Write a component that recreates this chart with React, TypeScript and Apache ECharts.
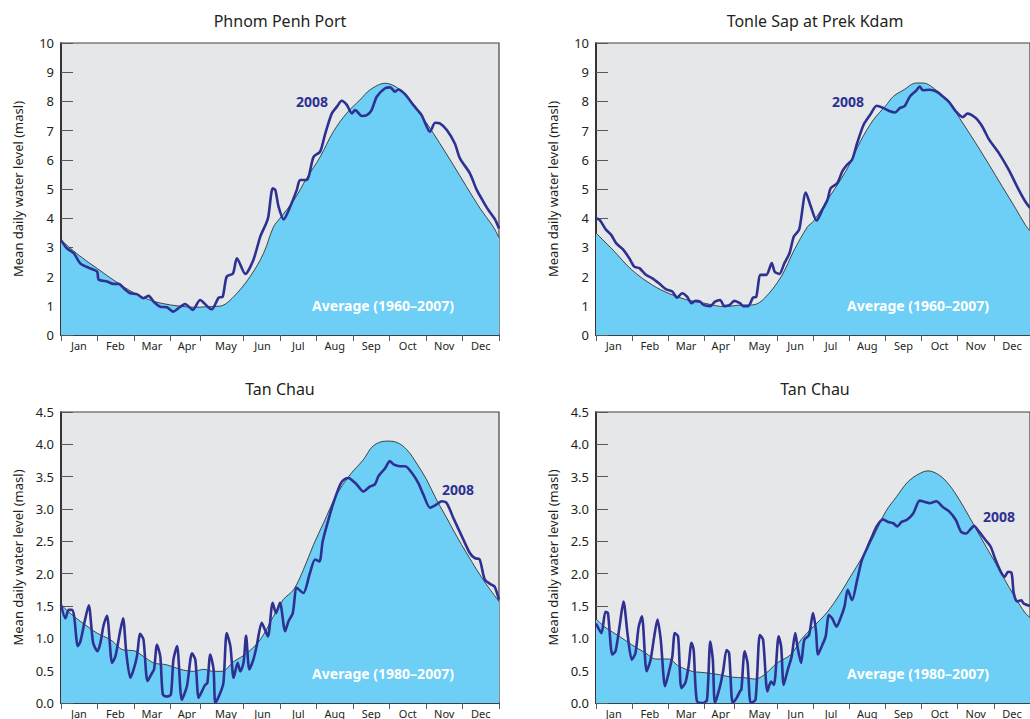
import React, { useEffect, useRef } from "react";
import * as echarts from "echarts";

// ---------- data (x = position in months from 1 Jan, 0..12) ----------
const months = ["Jan", "Feb", "Mar", "Apr", "May", "Jun", "Jul", "Aug", "Sep", "Oct", "Nov", "Dec"];
const monthTicks = [0, 1, 2, 3, 3.81, 5, 6, 7, 8, 9, 10, 11, 12];
const monthLabelPos = [0.49, 1.49, 2.49, 3.45, 4.52, 5.52, 6.5, 7.5, 8.5, 9.5, 10.5, 11.5];

const topTicks = [0, 1, 2, 3, 4, 5, 6, 7, 8, 9, 10];
const bottomTicks = [0, 0.5, 1, 1.5, 2, 2.5, 3, 3.5, 4, 4.5];

const titles = ["Phnom Penh Port", "Tonle Sap at Prek Kdam", "Tan Chau", "Tan Chau"];
const yName = "Mean daily water level (masl)";
const yearLabel = "2008";
const avgLabels = ["Average (1960–2007)", "Average (1960–2007)", "Average (1980–2007)", "Average (1980–2007)"];

// Phnom Penh Port
const ppAvgX = [0, 0.5, 0.99, 1.5, 1.99, 2.5, 3.0, 3.5, 3.72, 4.0, 4.36, 4.73, 5.18, 5.55, 5.82, 6.0, 6.37, 6.73, 7.1, 7.46, 7.83, 8.19, 8.47, 8.88, 9.29, 9.65, 10.02, 10.38, 10.75, 11.11, 11.48, 11.84, 12];
const ppAvgY = [3.25, 2.72, 2.28, 1.83, 1.45, 1.17, 1.03, 0.96, 0.95, 0.97, 0.99, 1.31, 2.0, 2.8, 3.7, 4.0, 4.6, 5.37, 6.1, 6.96, 7.6, 8.05, 8.4, 8.62, 8.4, 7.88, 7.25, 6.56, 5.82, 5.08, 4.34, 3.71, 3.33];
const pp08X = [0, 0.16, 0.35, 0.53, 0.8, 0.99, 1.03, 1.26, 1.44, 1.58, 1.72, 1.9, 2.08, 2.26, 2.4, 2.54, 2.72, 2.9, 3.07, 3.27, 3.4, 3.61, 3.81, 4.0, 4.13, 4.32, 4.43, 4.54, 4.71, 4.82, 5.05, 5.27, 5.46, 5.62, 5.68, 5.8, 5.87, 5.96, 6.1, 6.28, 6.46, 6.55, 6.73, 6.92, 7.1, 7.24, 7.42, 7.56, 7.69, 7.83, 7.97, 8.06, 8.24, 8.38, 8.51, 8.65, 8.88, 9.02, 9.15, 9.24, 9.43, 9.65, 9.88, 10.11, 10.25, 10.38, 10.57, 10.79, 10.93, 11.2, 11.39, 11.57, 11.71, 11.89, 12];
const pp08Y = [3.25, 2.97, 2.8, 2.45, 2.28, 2.17, 1.9, 1.83, 1.75, 1.75, 1.6, 1.43, 1.4, 1.26, 1.34, 1.14, 0.97, 0.95, 0.8, 0.97, 1.06, 0.86, 1.2, 0.99, 0.88, 1.28, 1.31, 2.0, 2.1, 2.63, 2.09, 2.57, 3.37, 3.82, 4.05, 5.02, 4.97, 4.4, 3.96, 4.4, 4.97, 5.31, 5.31, 6.1, 6.28, 6.9, 7.59, 7.82, 8.02, 7.88, 7.59, 7.7, 7.5, 7.53, 7.7, 8.16, 8.45, 8.48, 8.33, 8.41, 8.24, 7.88, 7.53, 6.96, 7.27, 7.25, 7.02, 6.56, 6.05, 5.54, 4.97, 4.57, 4.28, 3.96, 3.65];

// Tonle Sap at Prek Kdam
const tsAvgX = [0, 0.47, 0.99, 1.56, 2.0, 2.47, 2.99, 3.57, 3.93, 4.34, 4.66, 5.12, 5.48, 5.85, 6.01, 6.4, 6.76, 7.03, 7.31, 7.67, 8.01, 8.22, 8.49, 8.86, 9.04, 9.41, 9.77, 10.14, 10.5, 10.87, 11.23, 11.6, 11.87, 12];
const tsAvgY = [3.49, 2.91, 2.23, 1.71, 1.43, 1.22, 1.09, 0.97, 1.02, 1.03, 1.26, 2.0, 2.91, 3.71, 3.89, 4.63, 5.31, 5.89, 6.63, 7.37, 7.85, 8.17, 8.38, 8.63, 8.63, 8.38, 7.94, 7.26, 6.57, 5.83, 5.09, 4.34, 3.77, 3.57];
const ts08X = [0, 0.1, 0.28, 0.42, 0.56, 0.74, 0.92, 1.06, 1.2, 1.38, 1.56, 1.74, 1.93, 2.11, 2.24, 2.38, 2.52, 2.64, 2.75, 2.88, 2.97, 3.16, 3.29, 3.43, 3.55, 3.7, 3.82, 3.98, 4.07, 4.21, 4.34, 4.43, 4.55, 4.71, 4.86, 4.94, 5.07, 5.21, 5.35, 5.47, 5.62, 5.8, 5.94, 6.1, 6.26, 6.4, 6.49, 6.67, 6.81, 6.94, 7.08, 7.22, 7.4, 7.58, 7.76, 7.95, 8.13, 8.27, 8.4, 8.54, 8.68, 8.86, 8.95, 9.04, 9.22, 9.41, 9.59, 9.77, 9.95, 10.14, 10.27, 10.5, 10.68, 10.87, 11.14, 11.41, 11.69, 11.87, 12];
const ts08Y = [4.0, 3.94, 3.6, 3.43, 3.14, 2.94, 2.63, 2.34, 2.29, 2.06, 1.94, 1.77, 1.57, 1.49, 1.28, 1.43, 1.31, 1.09, 1.17, 1.14, 1.03, 0.99, 1.14, 1.2, 0.99, 1.03, 1.17, 1.09, 0.99, 0.99, 1.28, 1.31, 2.06, 2.06, 2.46, 2.17, 2.09, 2.46, 2.8, 3.37, 3.62, 4.88, 4.4, 3.92, 4.29, 4.63, 5.03, 5.2, 5.6, 5.83, 6.0, 6.57, 7.2, 7.54, 7.85, 7.77, 7.66, 7.62, 7.77, 7.85, 8.17, 8.38, 8.51, 8.38, 8.4, 8.34, 8.17, 7.97, 7.66, 7.46, 7.58, 7.43, 7.14, 6.69, 6.23, 5.66, 4.97, 4.57, 4.35];

// Tan Chau (left)
const tcAvgX = [0, 0.35, 0.71, 0.99, 1.35, 1.72, 1.99, 2.26, 2.54, 2.9, 3.27, 3.63, 3.91, 4.18, 4.41, 4.73, 5.09, 5.46, 5.82, 6.09, 6.37, 6.64, 6.92, 7.19, 7.55, 7.92, 8.28, 8.56, 8.92, 9.2, 9.47, 9.74, 10.02, 10.29, 10.57, 10.84, 11.11, 11.39, 11.66, 12];
const tcAvgY = [1.52, 1.34, 1.19, 1.08, 0.98, 0.82, 0.81, 0.72, 0.62, 0.59, 0.52, 0.49, 0.52, 0.49, 0.49, 0.64, 0.77, 0.98, 1.34, 1.6, 1.75, 2.06, 2.45, 2.78, 3.22, 3.53, 3.76, 3.98, 4.05, 4.03, 3.92, 3.71, 3.45, 3.14, 2.86, 2.58, 2.32, 2.06, 1.83, 1.57];
const tc08X = [0, 0.12, 0.21, 0.3, 0.36, 0.46, 0.53, 0.64, 0.76, 0.88, 1.0, 1.08, 1.17, 1.26, 1.4, 1.49, 1.61, 1.7, 1.79, 1.9, 1.99, 2.08, 2.17, 2.26, 2.37, 2.49, 2.55, 2.63, 2.72, 2.79, 2.9, 3.01, 3.08, 3.18, 3.31, 3.45, 3.59, 3.68, 3.77, 3.86, 3.95, 4.01, 4.09, 4.18, 4.23, 4.36, 4.45, 4.54, 4.64, 4.73, 4.84, 4.91, 5.0, 5.07, 5.16, 5.27, 5.36, 5.5, 5.59, 5.67, 5.8, 5.89, 6.0, 6.14, 6.23, 6.35, 6.46, 6.64, 6.82, 6.96, 7.08, 7.17, 7.33, 7.46, 7.65, 7.74, 7.87, 8.1, 8.28, 8.47, 8.6, 8.7, 8.88, 9.01, 9.11, 9.29, 9.43, 9.61, 9.79, 9.93, 10.11, 10.29, 10.43, 10.57, 10.75, 10.98, 11.2, 11.34, 11.47, 11.61, 11.79, 11.88, 12];
const tc08Y = [1.52, 1.31, 1.44, 1.44, 1.34, 0.88, 0.95, 1.24, 1.51, 0.93, 0.8, 0.93, 1.21, 1.35, 0.62, 0.72, 1.08, 1.31, 0.77, 0.39, 0.52, 0.72, 1.07, 0.98, 0.34, 0.46, 0.52, 0.9, 0.72, 0.13, 0.1, 0.13, 0.67, 0.88, 0.05, 0.26, 0.77, 0.67, 0.08, 0.18, 0.28, 0.31, 0.75, 0.52, 0.0, 0.15, 0.31, 1.08, 0.88, 0.39, 0.62, 0.49, 0.62, 1.04, 0.52, 0.67, 0.88, 1.24, 1.13, 1.03, 1.55, 1.39, 1.55, 1.11, 1.26, 1.39, 1.78, 1.7, 2.01, 2.22, 2.19, 2.5, 2.84, 3.09, 3.38, 3.45, 3.48, 3.38, 3.27, 3.35, 3.38, 3.51, 3.63, 3.74, 3.69, 3.66, 3.66, 3.56, 3.4, 3.22, 3.02, 3.07, 3.12, 3.09, 2.86, 2.58, 2.32, 2.24, 2.22, 1.91, 1.83, 1.8, 1.6];

// Tan Chau (right)
const tc2AvgX = [0, 0.28, 0.65, 0.99, 1.38, 1.65, 2.0, 2.29, 2.66, 2.99, 3.39, 3.75, 4.12, 4.39, 4.66, 5.01, 5.39, 5.67, 6.01, 6.4, 6.76, 7.03, 7.4, 7.67, 8.01, 8.31, 8.59, 8.86, 9.18, 9.5, 9.77, 10.05, 10.32, 10.68, 11.05, 11.41, 11.69, 11.87, 12];
const tc2AvgY = [1.3, 1.16, 1.03, 0.9, 0.77, 0.68, 0.68, 0.57, 0.49, 0.47, 0.44, 0.4, 0.39, 0.37, 0.44, 0.62, 0.75, 0.98, 1.18, 1.41, 1.7, 1.95, 2.29, 2.57, 2.96, 3.19, 3.4, 3.52, 3.59, 3.52, 3.37, 3.14, 2.88, 2.52, 2.16, 1.8, 1.54, 1.39, 1.32];
const tc208X = [0, 0.15, 0.26, 0.33, 0.45, 0.54, 0.65, 0.76, 0.88, 0.99, 1.09, 1.18, 1.27, 1.4, 1.51, 1.61, 1.7, 1.79, 1.91, 2.02, 2.11, 2.18, 2.27, 2.36, 2.47, 2.56, 2.64, 2.7, 2.79, 2.97, 3.07, 3.16, 3.23, 3.29, 3.43, 3.52, 3.61, 3.68, 3.78, 3.89, 3.98, 4.02, 4.11, 4.19, 4.28, 4.41, 4.53, 4.62, 4.74, 4.84, 4.92, 5.05, 5.12, 5.19, 5.3, 5.41, 5.51, 5.57, 5.67, 5.76, 5.89, 6.0, 6.08, 6.14, 6.26, 6.35, 6.44, 6.53, 6.65, 6.76, 6.87, 6.96, 7.08, 7.22, 7.35, 7.49, 7.63, 7.76, 7.93, 8.08, 8.22, 8.33, 8.45, 8.59, 8.77, 8.95, 9.09, 9.22, 9.41, 9.59, 9.77, 9.95, 10.09, 10.23, 10.36, 10.45, 10.59, 10.77, 10.91, 11.05, 11.19, 11.3, 11.39, 11.49, 11.55, 11.64, 11.76, 11.82, 12];
const tc208Y = [1.23, 1.08, 1.41, 1.39, 0.75, 0.8, 1.18, 1.57, 1.03, 0.67, 0.77, 1.18, 1.34, 0.49, 0.67, 1.03, 1.29, 0.98, 0.26, 0.49, 0.72, 1.08, 1.03, 0.23, 0.31, 0.57, 0.93, 0.82, 0.03, 0.0, 0.05, 0.95, 0.67, 0.0, 0.26, 0.51, 0.82, 0.77, 0.0, 0.08, 0.18, 0.21, 0.8, 0.62, 0.0, 0.05, 1.05, 0.98, 0.18, 0.33, 0.28, 1.03, 0.87, 0.28, 0.51, 0.72, 1.08, 0.87, 0.62, 0.98, 1.05, 1.39, 1.13, 0.75, 0.9, 1.03, 1.36, 1.31, 1.18, 1.31, 1.49, 1.75, 1.59, 1.9, 2.21, 2.39, 2.57, 2.73, 2.84, 2.8, 2.78, 2.73, 2.8, 2.83, 2.93, 3.13, 3.11, 3.09, 3.12, 3.03, 2.96, 2.83, 2.65, 2.62, 2.69, 2.74, 2.65, 2.52, 2.42, 2.21, 2.03, 1.95, 2.03, 2.01, 1.7, 1.57, 1.59, 1.54, 1.5];

const zip = (xs: number[], ys: number[]) => xs.map((x, i) => [x, ys[i]]);

const FONT = "'Noto Sans', 'Open Sans', sans-serif";
const DARK = "#231f20";
const BLUE = "#2e3192";
const CYAN = "#6dcff6";
const GREYBG = "#e6e7e8";

const panels = [
  { left: 61, top: 43, height: 292, max: 10, ticks: topTicks, avg: zip(ppAvgX, ppAvgY), y08: zip(pp08X, pp08Y), dec: 0 },
  { left: 596, top: 43, height: 292, max: 10, ticks: topTicks, avg: zip(tsAvgX, tsAvgY), y08: zip(ts08X, ts08Y), dec: 0 },
  { left: 61, top: 412, height: 291, max: 4.5, ticks: bottomTicks, avg: zip(tcAvgX, tcAvgY), y08: zip(tc08X, tc08Y), dec: 1 },
  { left: 596, top: 412, height: 291, max: 4.5, ticks: bottomTicks, avg: zip(tc2AvgX, tc2AvgY), y08: zip(tc208X, tc208Y), dec: 1 },
];
const PW = 438;

// annotation placements (pixels)
const titlePos = [[280, 21], [815, 21], [280, 389], [815, 389]];
const yearPos = [[312, 101], [848, 101], [458, 489], [999, 516]];
const avgPos = [[383, 305], [918, 305], [383, 673], [918, 673]];

export default function App() {
  const ref = useRef<HTMLDivElement>(null);
  useEffect(() => {
    document.body.style.margin = "0";
    if (!ref.current) return;
    const chart = echarts.init(ref.current, undefined, { renderer: "svg" });
    const grid: any[] = [];
    const xAxis: any[] = [];
    const yAxis: any[] = [];
    const series: any[] = [];
    const graphic: any[] = [];
    panels.forEach((p, i) => {
      grid.push({
        left: p.left, top: p.top, width: PW, height: p.height,
        show: true, backgroundColor: GREYBG, borderColor: "#404041", borderWidth: 1.2,
        containLabel: false,
      });
      xAxis.push({
        type: "value", gridIndex: i, min: 0, max: 12, interval: 1,
        axisLine: { show: true, onZero: false, lineStyle: { color: DARK, width: 1.6 } },
        axisTick: { show: true, length: 6, customValues: monthTicks, lineStyle: { color: "#58595b", width: 1 } },
        axisLabel: {
          show: true, customValues: monthLabelPos, margin: 5, fontSize: 11, color: DARK, fontFamily: FONT,
          formatter: (v: number) => {
            const k = monthLabelPos.findIndex((q) => Math.abs(q - v) < 1e-6);
            return k >= 0 ? months[k] : "";
          },
        },
        splitLine: { show: false },
      });
      yAxis.push({
        type: "value", gridIndex: i, min: 0, max: p.max, interval: p.max === 10 ? 1 : 0.5,
        name: yName, nameLocation: "middle", nameGap: 37, nameRotate: 90,
        nameTextStyle: { fontSize: 13, color: DARK, fontFamily: FONT },
        axisLine: { show: true, lineStyle: { color: DARK, width: 1.6 } },
        axisTick: { show: true, inside: true, length: 12, lineStyle: { color: "#58595b", width: 1 } },
        axisLabel: {
          margin: 7, fontSize: 13, color: DARK, fontFamily: FONT,
          formatter: (v: number) => (p.dec ? v.toFixed(1) : String(v)),
        },
        splitLine: { show: false },
      });
      series.push({
        type: "line", xAxisIndex: i, yAxisIndex: i, data: p.avg, showSymbol: false, smooth: 0.35,
        lineStyle: { color: DARK, width: 0.8 }, areaStyle: { color: CYAN, opacity: 1 }, z: 2,
      });
      series.push({
        type: "line", xAxisIndex: i, yAxisIndex: i, data: p.y08, showSymbol: false, smooth: 0.25,
        lineStyle: { color: BLUE, width: 2.6 }, z: 3,
      });
      graphic.push({
        type: "text", x: titlePos[i][0], y: titlePos[i][1],
        style: { text: titles[i], fill: DARK, font: `16px ${FONT}`, textAlign: "center", textVerticalAlign: "middle" },
      });
      graphic.push({
        type: "text", x: yearPos[i][0], y: yearPos[i][1], z: 10,
        style: { text: yearLabel, fill: BLUE, font: `bold 14px ${FONT}`, textAlign: "center", textVerticalAlign: "middle" },
      });
      graphic.push({
        type: "text", x: avgPos[i][0], y: avgPos[i][1], z: 10,
        style: { text: avgLabels[i], fill: "#ffffff", font: `bold 14px ${FONT}`, textAlign: "center", textVerticalAlign: "middle" },
      });
    });
    chart.setOption({
      animation: false,
      backgroundColor: "#ffffff",
      grid, xAxis, yAxis, series, graphic,
    });
    return () => chart.dispose();
  }, []);
  return <div ref={ref} style={{ position: "absolute", left: 0, top: 0, width: 1030, height: 719, overflow: "hidden" }} />;
}
